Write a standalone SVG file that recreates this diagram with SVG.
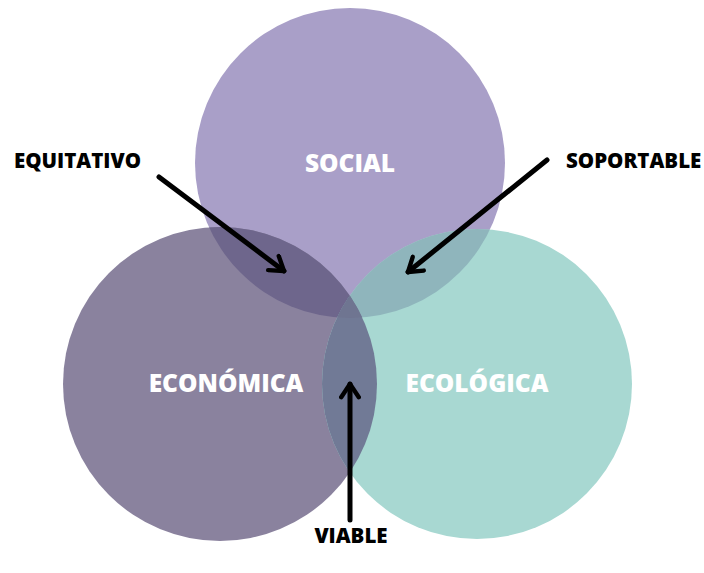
<svg xmlns="http://www.w3.org/2000/svg" width="704" height="573" viewBox="0 0 704 573">
<style>
.lbl{font-family:"Open Sans","Liberation Sans",sans-serif;font-weight:800;fill:#ffffff;font-size:24.5px;text-anchor:middle}
.cap{font-family:"Open Sans","Liberation Sans",sans-serif;font-weight:800;fill:#000000;font-size:20.5px}
.arr{fill:none;stroke:#000;stroke-width:5;stroke-linecap:round;stroke-linejoin:round}
</style>
<defs>
<clipPath id="cS"><circle cx="350" cy="163" r="155"/></clipPath>
<clipPath id="cE"><circle cx="220" cy="384" r="157"/></clipPath>
<clipPath id="cL"><circle cx="477" cy="384" r="155"/></clipPath>
<marker id="ah" viewBox="0 0 10 10" refX="8" refY="5" markerWidth="4.4" markerHeight="4.4" orient="auto" markerUnits="strokeWidth">
<polyline points="2,1 8,5 2,9" fill="none" stroke="#000" stroke-width="2" stroke-linecap="round" stroke-linejoin="round"/>
</marker>
</defs>
<rect width="704" height="573" fill="#ffffff"/>
<g id="social"><circle cx="350" cy="163" r="155" fill="#a99fc8"/></g>
<g id="economica"><circle cx="220" cy="384" r="157" fill="#8a829e"/></g>
<g id="ecologica"><circle cx="477" cy="384" r="155" fill="#a8d8d2"/></g>
<g id="overlaps">
<circle cx="220" cy="384" r="157" fill="#6e668c" clip-path="url(#cS)"/>
<circle cx="477" cy="384" r="155" fill="#8fb5bc" clip-path="url(#cS)"/>
<circle cx="477" cy="384" r="155" fill="#717a96" clip-path="url(#cE)"/>
<g clip-path="url(#cS)"><circle cx="477" cy="384" r="155" fill="#6f7591" clip-path="url(#cE)"/></g>
</g>
<g id="labels">
<text class="lbl" x="350" y="172">SOCIAL</text>
<text class="lbl" x="226" y="392">ECONÓMICA</text>
<text class="lbl" x="477" y="392">ECOLÓGICA</text>
</g>
<g id="connectors">
<line class="arr" x1="159" y1="177" x2="284" y2="271" marker-end="url(#ah)"/>
<line class="arr" x1="547" y1="160" x2="408" y2="272" marker-end="url(#ah)"/>
<line class="arr" x1="350" y1="520" x2="350" y2="384" marker-end="url(#ah)"/>
</g>
<g id="captions">
<text class="cap" x="14" y="168">EQUITATIVO</text>
<text class="cap" x="566" y="168">SOPORTABLE</text>
<text class="cap" x="351" y="543" text-anchor="middle">VIABLE</text>
</g>
</svg>
